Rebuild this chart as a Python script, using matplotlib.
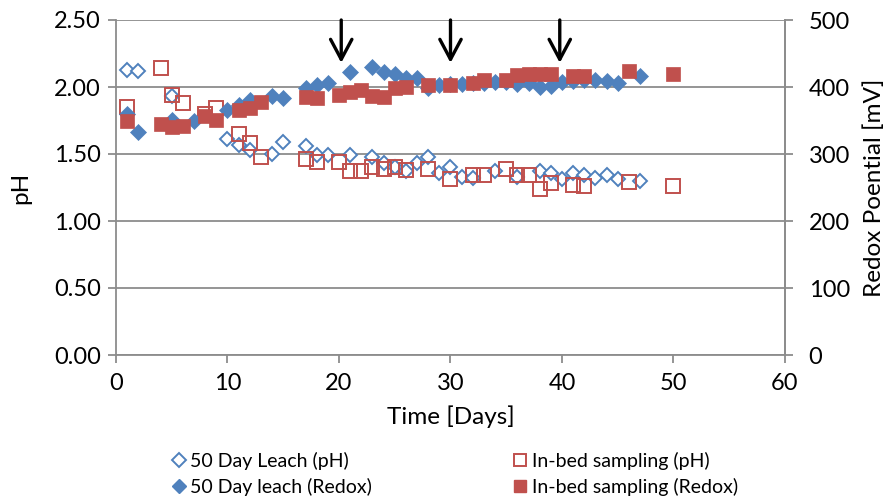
import matplotlib
matplotlib.use("Agg")
import matplotlib.pyplot as plt
from matplotlib.lines import Line2D

plt.rcParams['font.family'] = ['Lato', 'DejaVu Sans']

# 50 day leach column
leach_ph_days = [1, 2, 5, 10, 11, 12, 14, 15, 17, 18, 19, 21, 23, 24, 25, 26, 27, 28,
                 29, 30, 31, 32, 34, 36, 38, 39, 40, 41, 42, 43, 44, 45, 47]
leach_ph = [2.13, 2.12, 1.93, 1.61, 1.57, 1.53, 1.50, 1.59, 1.56, 1.49, 1.49, 1.49, 1.48,
            1.43, 1.40, 1.37, 1.43, 1.48, 1.36, 1.40, 1.33, 1.32, 1.37, 1.33, 1.37, 1.36,
            1.31, 1.36, 1.34, 1.32, 1.34, 1.31, 1.30]

leach_redox_days = [1, 2, 5, 7, 10, 11, 12, 14, 15, 17, 18, 19, 21, 23, 24, 25, 26, 27, 28,
                    29, 30, 31, 32, 33, 34, 35, 36, 37, 38, 39, 40, 41, 42, 43, 44, 45, 47]
leach_redox = [359, 333, 351, 349, 366, 373, 380, 386, 384, 399, 403, 406, 422, 430, 423,
               420, 414, 413, 398, 403, 404, 405, 406, 406, 407, 408, 405, 406, 400, 402,
               407, 409, 411, 410, 409, 406, 417]

# In-bed sampling
bed_ph_days = [1, 4, 5, 6, 8, 9, 11, 12, 13, 17, 18, 20, 21, 22, 23, 24, 25, 26, 28, 30,
               32, 33, 35, 36, 37, 38, 39, 41, 42, 46, 50]
bed_ph = [1.85, 2.14, 1.94, 1.88, 1.80, 1.84, 1.65, 1.58, 1.48, 1.46, 1.44, 1.44, 1.37,
          1.37, 1.40, 1.39, 1.40, 1.38, 1.39, 1.31, 1.34, 1.34, 1.39, 1.34, 1.34, 1.24,
          1.28, 1.27, 1.26, 1.29, 1.26]

bed_redox_days = [1, 4, 5, 6, 8, 9, 11, 12, 13, 17, 18, 20, 21, 22, 23, 24, 25, 26, 28, 30,
                  32, 33, 35, 36, 37, 38, 39, 41, 42, 46, 50]
bed_redox = [350, 345, 340, 342, 356, 351, 365, 369, 378, 385, 383, 388, 393, 396, 386,
             385, 398, 400, 403, 403, 406, 411, 411, 418, 419, 419, 419, 416, 417, 424, 420]

# Days marked with arrows
arrow_days = [20.2, 30.0, 39.8]

x_ticks = [0, 10, 20, 30, 40, 50, 60]
ph_ticks = [0.0, 0.5, 1.0, 1.5, 2.0, 2.5]
redox_ticks = [0, 100, 200, 300, 400, 500]

blue = '#4F81BD'
red = '#C0504D'
grey = '#8C8C8C'

fig = plt.figure(figsize=(8.87, 4.99), dpi=100)
ax = fig.add_axes([116 / 887, 1 - 355 / 499, (785 - 116) / 887, (355 - 20) / 499])
ax2 = ax.twinx()

ax.plot(leach_ph_days, leach_ph, linestyle='none', marker='D', markersize=7.5,
        markerfacecolor='white', markeredgecolor=blue, markeredgewidth=1.4, zorder=3)
ax.plot(bed_ph_days, bed_ph, linestyle='none', marker='s', markersize=9.5,
        markerfacecolor='none', markeredgecolor=red, markeredgewidth=1.4, zorder=4)
ax2.plot(leach_redox_days, leach_redox, linestyle='none', marker='D', markersize=8,
         markerfacecolor=blue, markeredgecolor=blue, markeredgewidth=0.5, zorder=3)
ax2.plot(bed_redox_days, bed_redox, linestyle='none', marker='s', markersize=10,
         markerfacecolor=red, markeredgecolor=red, markeredgewidth=0.5, zorder=4)

for d in arrow_days:
    ax2.annotate('', xy=(d, 436), xytext=(d, 500),
                 arrowprops=dict(arrowstyle='->,head_length=0.45,head_width=0.24',
                                 lw=2.4, color='black', mutation_scale=32,
                                 shrinkA=0, shrinkB=0),
                 annotation_clip=False, zorder=10)

ax.set_xlim(0, 60)
ax.set_ylim(0, 2.5)
ax2.set_ylim(0, 500)
ax.set_xticks(x_ticks)
ax.set_yticks(ph_ticks)
ax.set_yticklabels([f'{v:.2f}' for v in ph_ticks])
ax2.set_yticks(redox_ticks)

ax.grid(axis='y', color=grey, linewidth=1.3)
ax.set_axisbelow(True)
for a in (ax, ax2):
    a.spines['top'].set_visible(False)
    for side in ('left', 'right', 'bottom'):
        a.spines[side].set_color(grey)
        a.spines[side].set_linewidth(1.3)
ax2.spines['left'].set_visible(False)
ax2.spines['bottom'].set_visible(False)

ax.tick_params(axis='y', direction='out', length=6, width=1.3, color=grey,
               labelsize=17, labelcolor='black', pad=5)
ax.tick_params(axis='x', direction='out', length=6, width=1.3, color=grey,
               labelsize=17, labelcolor='black', pad=7)
ax2.tick_params(axis='y', direction='out', length=6, width=1.3, color=grey,
                labelsize=17, labelcolor='black', pad=11)

ax.set_xlabel('Time [Days]', fontsize=17.5, labelpad=8)
ax.set_ylabel('pH', fontsize=17.5, labelpad=16)
ax2.set_ylabel('Redox Poential [mV]', fontsize=17.5, labelpad=10)

handles = [
    Line2D([], [], linestyle='none', marker='D', markersize=7, markerfacecolor='white',
           markeredgecolor=blue, markeredgewidth=1.4),
    Line2D([], [], linestyle='none', marker='D', markersize=7, markerfacecolor=blue,
           markeredgecolor=blue),
    Line2D([], [], linestyle='none', marker='s', markersize=8, markerfacecolor='white',
           markeredgecolor=red, markeredgewidth=1.4),
    Line2D([], [], linestyle='none', marker='s', markersize=8, markerfacecolor=red,
           markeredgecolor=red),
]
labels = ['50 Day Leach (pH)', '50 Day leach (Redox)',
          'In-bed sampling (pH)', 'In-bed sampling (Redox)']
fig.legend(handles, labels, ncol=2, loc='lower left', bbox_to_anchor=(163 / 887, -0.014),
           frameon=False, fontsize=14, handlelength=0.6, handletextpad=0.3,
           columnspacing=7.3, labelspacing=0.42, borderaxespad=0.1)

fig.savefig('out.png', dpi=100)
